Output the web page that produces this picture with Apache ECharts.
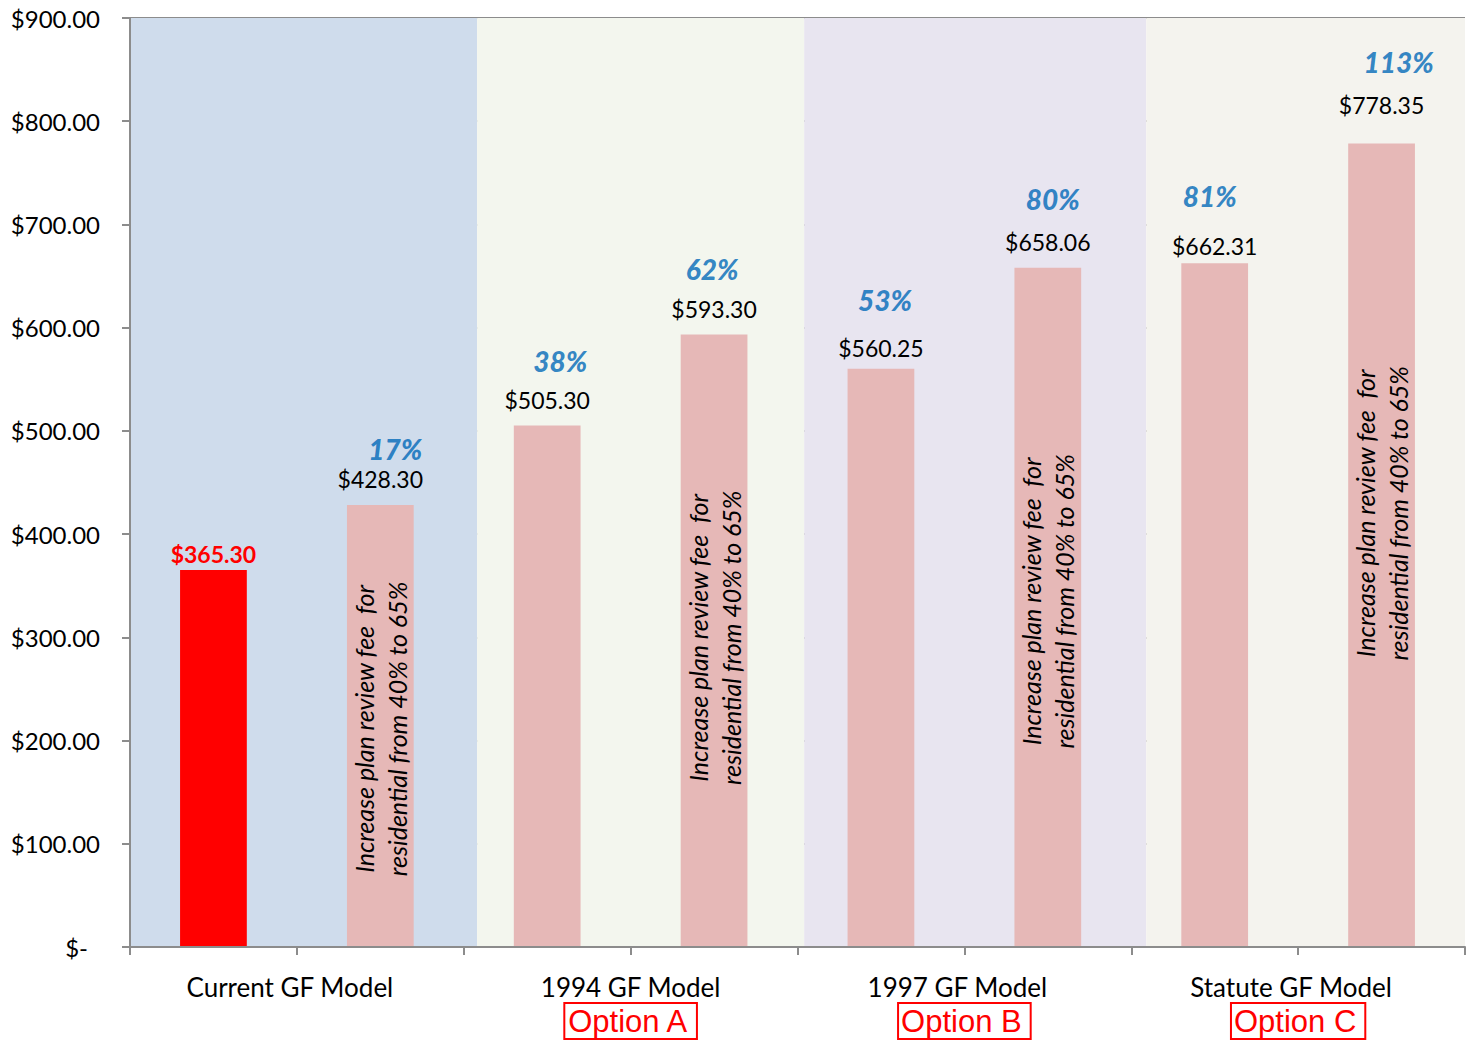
<!DOCTYPE html>
<html>
<head>
<meta charset="utf-8">
<script src="https://cdn.jsdelivr.net/npm/echarts@6/dist/echarts.min.js"></script>
<style>html,body{margin:0;padding:0;background:#fff;}#c{width:1466px;height:1049px;}</style>
</head>
<body>
<div id="c"></div>
<script>
// ---- data ----
var categories = ['Current', 'Current +', '1994', '1994 +', '1997', '1997 +', 'Statute', 'Statute +'];
var fees = [365.30, 428.30, 505.30, 593.30, 560.25, 658.06, 662.31, 778.35];
var pctLabels = ['', '17%', '38%', '62%', '53%', '80%', '81%', '113%'];
var groupNames = ['Current GF Model', '1994 GF Model', '1997 GF Model', 'Statute GF Model'];
var groupOptions = ['', 'Option A', 'Option B', 'Option C'];
var noteText = 'Increase plan review fee  for\nresidential from 40% to 65%';
var noteOnBar = [false, true, false, true, false, true, false, true];
var yTickLabels = ['$-', '$100.00', '$200.00', '$300.00', '$400.00', '$500.00', '$600.00', '$700.00', '$800.00', '$900.00'];
// background bands on a 0..8 category-width scale
var bandStarts = [0, 2.08, 4.04, 6.09];
var bandEnds = [2.08, 4.04, 6.09, 8];

// ---- styles ----
var bandColors = ['#cfdcec', '#f3f6ee', '#e8e5f0', '#f4f3ee'];
var valueLift = [16, 26, 25, 26, 21, 26, 17, 39];
var pctShift = [[0, 0], [15, 56], [13, 64], [-2, 66], [4, 69], [5, 69], [-5, 67], [17, 82]];
var noteShift = [0, 3, 0, -3, 0, -6, 0, -32]; // screen-vertical shift of the rotated note
var groupShift = [-6, 0, -9, -6];
var FONT = 'Lato, "Open Sans", sans-serif';
var GRIDC = '#8c8c8c';

var barData = fees.map(function (v, i) {
  var item = { value: v, itemStyle: { color: i === 0 ? '#ff0000' : '#e6b8b7' } };
  if (noteOnBar[i]) {
    item.label = {
      show: true, position: 'inside', rotate: 90, formatter: noteText,
      offset: [-noteShift[i], 0],
      fontFamily: FONT, fontStyle: 'italic', fontSize: 25, lineHeight: 33, color: '#000'
    };
  }
  return item;
});

var valueData = fees.map(function (v, i) {
  var first = i === 0;
  return {
    value: v,
    label: {
      show: true, position: 'top', distance: 0, verticalAlign: 'middle',
      offset: [0, -valueLift[i]],
      formatter: '$' + v.toFixed(2),
      fontFamily: FONT, fontSize: 23,
      fontWeight: first ? 'bold' : 'normal',
      color: first ? '#ff0000' : '#000'
    }
  };
});

var pctData = fees.map(function (v, i) {
  return {
    value: v,
    label: {
      show: pctLabels[i] !== '', position: 'inside',
      offset: [pctShift[i][0], -pctShift[i][1]],
      formatter: pctLabels[i],
      fontFamily: FONT, fontSize: 28, fontWeight: 900, fontStyle: 'italic', color: '#0068b8'
    }
  };
});

var bands = bandStarts.map(function (s, i) {
  return [{ coord: [s, 904], itemStyle: { color: bandColors[i] } }, { coord: [bandEnds[i], 0] }];
});

var chart = echarts.init(document.getElementById('c'), null, { renderer: 'svg' });
chart.setOption({
  animation: false,
  backgroundColor: '#fff',
  grid: { left: 130, right: 1, top: 18, bottom: 102, containLabel: false },
  xAxis: [
    {
      type: 'category', data: categories, position: 'bottom',
      axisLine: { show: true, lineStyle: { color: GRIDC, width: 2 } },
      axisTick: { show: true, length: 8, lineStyle: { color: GRIDC, width: 2 } },
      axisLabel: { show: false }, splitLine: { show: false }, z: 5
    },
    {
      type: 'category', data: groupNames, position: 'bottom',
      axisLine: { show: false }, axisTick: { show: false }, splitLine: { show: false },
      axisLabel: {
        show: true, margin: 23, interval: 0,
        formatter: function (name, idx) {
          var sh = groupShift[idx];
          var s = '{n' + (sh < 0 ? 'L' : '') + '|' + name + '}';
          if (groupOptions[idx]) s += '\n{o|' + groupOptions[idx] + '}';
          return s;
        },
        rich: {
          n: { fontFamily: FONT, fontSize: 26, color: '#000', lineHeight: 34 },
          nL: { fontFamily: FONT, fontSize: 26, color: '#000', lineHeight: 34, padding: [0, 14, 0, 0] },
          o: {
            fontFamily: '"Liberation Sans", Arial, sans-serif', fontSize: 31, color: '#ff0000',
            borderColor: '#ff0000', borderWidth: 2, padding: [3, 9, 2, 3], lineHeight: 34
          }
        }
      }
    },
    { type: 'value', min: 0, max: 8, show: false }
  ],
  yAxis: {
    type: 'value', min: 0, max: 900, interval: 100,
    axisLine: { show: true, lineStyle: { color: GRIDC, width: 2 } },
    axisTick: { show: true, length: 8, lineStyle: { color: GRIDC, width: 2 } },
    splitLine: { show: true, lineStyle: { color: GRIDC, width: 2 } },
    axisLabel: {
      margin: 30, fontFamily: FONT, fontSize: 24, color: '#000',
      formatter: function (v) {
        var s = yTickLabels[Math.round(v / 100)];
        return v === 0 ? '{z|' + s + '}' : s;
      },
      rich: { z: { fontFamily: FONT, fontSize: 24, color: '#000', padding: [0, 12, 0, 0] } }
    }
  },
  series: [
    {
      type: 'line', xAxisIndex: 2, yAxisIndex: 0, data: [], silent: true, z: 0,
      markArea: { silent: true, data: bands, z: 0 }
    },
    {
      name: 'fee', type: 'bar', xAxisIndex: 0, data: barData, barWidth: '40%', z: 3
    },
    {
      name: 'value', type: 'bar', xAxisIndex: 0, data: valueData, barWidth: '40%', barGap: '-100%',
      itemStyle: { color: 'rgba(0,0,0,0)' }, z: 4, silent: true
    },
    {
      name: 'pct', type: 'scatter', xAxisIndex: 0, data: pctData, symbolSize: 1,
      itemStyle: { color: 'rgba(0,0,0,0)' }, z: 6, silent: true
    }
  ]
});
</script>
</body>
</html>
